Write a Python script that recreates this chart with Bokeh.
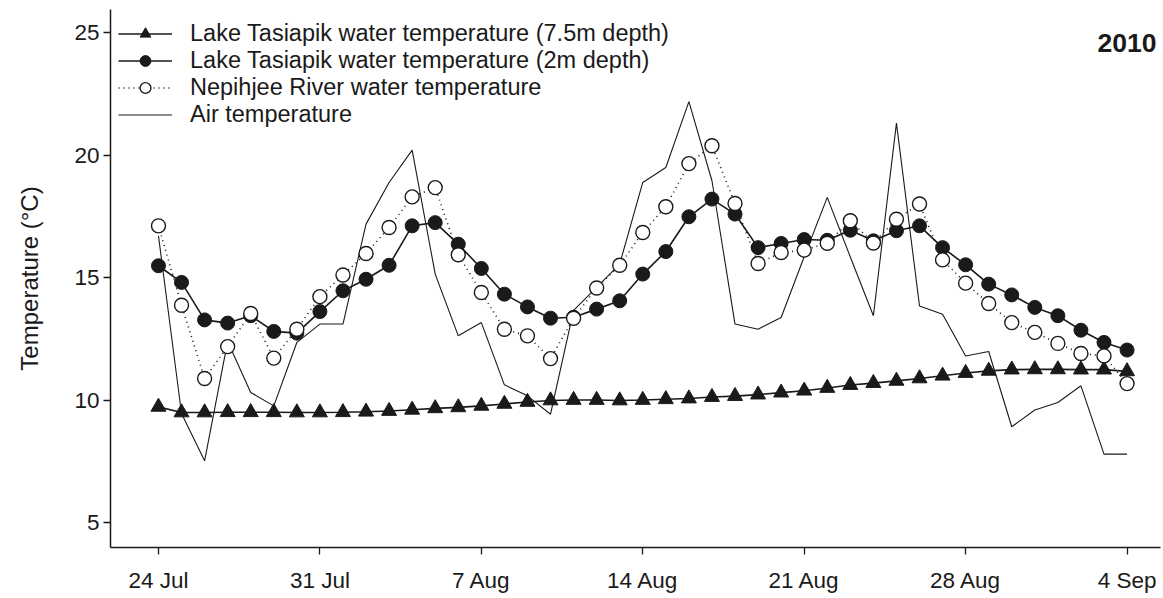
import pandas as pd
from bokeh.plotting import figure
from bokeh.models import Legend, LegendItem, FixedTicker, Range1d, Label
from bokeh.embed import file_html
from bokeh.resources import INLINE

# ---- data ----
dates = pd.date_range("2010-07-24", "2010-09-04", freq="D")
tick_dates = ["2010-07-24", "2010-07-31", "2010-08-07", "2010-08-14",
              "2010-08-21", "2010-08-28", "2010-09-04"]
tick_labels = ["24 Jul", "31 Jul", "7 Aug", "14 Aug", "21 Aug", "28 Aug", "4 Sep"]

lake_7_5m = [9.72, 9.49, 9.49, 9.50, 9.50, 9.50, 9.49, 9.49, 9.50, 9.52,
             9.55, 9.60, 9.66, 9.70, 9.76, 9.84, 9.92, 9.98, 10.00, 10.00,
             9.98, 10.00, 10.03, 10.06, 10.12, 10.16, 10.22, 10.30, 10.38, 10.49,
             10.61, 10.69, 10.78, 10.88, 10.99, 11.10, 11.19, 11.24, 11.25, 11.25,
             11.24, 11.24, 11.17]

lake_2m = [15.48, 14.80, 13.27, 13.14, 13.44, 12.80, 12.73, 13.61, 14.46, 14.93,
           15.50, 17.11, 17.24, 16.36, 15.37, 14.32, 13.80, 13.34, 13.38, 13.71,
           14.05, 15.14, 16.06, 17.48, 18.20, 17.59, 16.22, 16.39, 16.55, 16.52,
           16.93, 16.50, 16.91, 17.11, 16.22, 15.52, 14.73, 14.29, 13.78, 13.44,
           12.85, 12.35, 12.04]

river = [17.11, 13.87, 10.88, 12.18, 13.53, 11.71, 12.89, 14.22, 15.10, 15.98,
         17.04, 18.29, 18.67, 15.93, 14.39, 12.89, 12.62, 11.69, 13.34, 14.57,
         15.50, 16.84, 17.89, 19.65, 20.38, 18.02, 15.57, 16.02, 16.12, 16.40,
         17.32, 16.41, 17.38, 18.00, 15.72, 14.77, 13.94, 13.16, 12.76, 12.31,
         11.90, 11.80, 10.67]

air = [16.70, 9.45, 7.52, 12.39, 10.31, 9.76, 12.35, 13.10, 13.10, 17.18,
       18.88, 20.20, 15.14, 12.62, 13.16, 10.62, 10.17, 9.42, 13.66, 14.60,
       15.55, 18.88, 19.49, 22.18, 18.95, 13.10, 12.89, 13.37, 15.85, 18.27,
       15.84, 13.44, 21.30, 13.84, 13.50, 11.80, 11.98, 8.91, 9.59, 9.90,
       10.58, 7.79, 7.79]

y_ticks = [5, 10, 15, 20, 25]

# ---- derived positions (day offsets) ----
x = [int((d - dates[0]).days) for d in dates]
tick_x = [int((pd.Timestamp(t) - dates[0]).days) for t in tick_dates]

FONT = "Liberation Sans"
INK = "#1a1a1a"

p = figure(width=1163, height=598, output_backend="svg", toolbar_location=None,
           x_range=Range1d(-2.08, 43.45), y_range=Range1d(3.98, 25.94),
           min_border_left=110, min_border_right=3, min_border_top=9,
           min_border_bottom=51)
p.outline_line_color = None
p.xgrid.visible = False
p.ygrid.visible = False
p.background_fill_color = "white"
p.border_fill_color = "white"

# air temperature
r_air = p.line(x, air, line_color=INK, line_width=1.1)

# lake 7.5m
r_tri_l = p.line(x, lake_7_5m, line_color=INK, line_width=1.6)
r_tri_m = p.scatter(x, lake_7_5m, marker="triangle", size=15,
                    fill_color=INK, line_color=INK)

# lake 2m
r_f_l = p.line(x, lake_2m, line_color=INK, line_width=1.6)
r_f_m = p.scatter(x, lake_2m, marker="circle", size=14,
                  fill_color=INK, line_color=INK)

# river
r_o_l = p.line(x, river, line_color=INK, line_width=1.6, line_dash="1 4")
r_o_m = p.scatter(x, river, marker="circle", size=14,
                  fill_color="white", line_color=INK, line_width=1.4)

legend = Legend(items=[
    LegendItem(label="Lake Tasiapik water temperature (7.5m depth)", renderers=[r_tri_l, r_tri_m]),
    LegendItem(label="Lake Tasiapik water temperature (2m depth)", renderers=[r_f_l, r_f_m]),
    LegendItem(label="Nepihjee River water temperature", renderers=[r_o_l, r_o_m]),
    LegendItem(label="Air temperature", renderers=[r_air]),
], location=(8, 419))
legend.border_line_color = None
legend.background_fill_alpha = 0
legend.padding = 0
legend.margin = 0
legend.spacing = 0
legend.glyph_width = 54
legend.glyph_height = 27
legend.label_height = 27
legend.label_standoff = 18
legend.label_text_font = FONT
legend.label_text_font_size = "23.5px"
legend.label_text_color = INK
p.add_layout(legend, "center")

p.add_layout(Label(x=42, y=24.58, text="2010", text_font=FONT, text_font_size="26.5px",
                   text_font_style="bold", text_color=INK,
                   text_align="center", text_baseline="middle"))

for ax in (p.xaxis[0], p.yaxis[0]):
    ax.axis_line_color = INK
    ax.axis_line_width = 1.5
    ax.major_tick_line_color = INK
    ax.major_tick_line_width = 1.3
    ax.major_tick_out = 7
    ax.major_tick_in = 0
    ax.minor_tick_line_color = None
    ax.major_label_text_font = FONT
    ax.major_label_text_font_size = "22.5px"
    ax.major_label_text_color = INK

p.xaxis.ticker = FixedTicker(ticks=tick_x)
p.xaxis.major_label_overrides = {t: lab for t, lab in zip(tick_x, tick_labels)}
p.xaxis.major_label_standoff = 13

p.yaxis.ticker = FixedTicker(ticks=y_ticks)
p.yaxis.major_label_standoff = 4
p.yaxis.axis_label = "Temperature (°C)"
p.yaxis.axis_label_text_font = FONT
p.yaxis.axis_label_text_font_size = "24px"
p.yaxis.axis_label_text_font_style = "normal"
p.yaxis.axis_label_text_color = INK
p.yaxis.axis_label_standoff = 28

open("out.html", "w").write(file_html(p, INLINE))
